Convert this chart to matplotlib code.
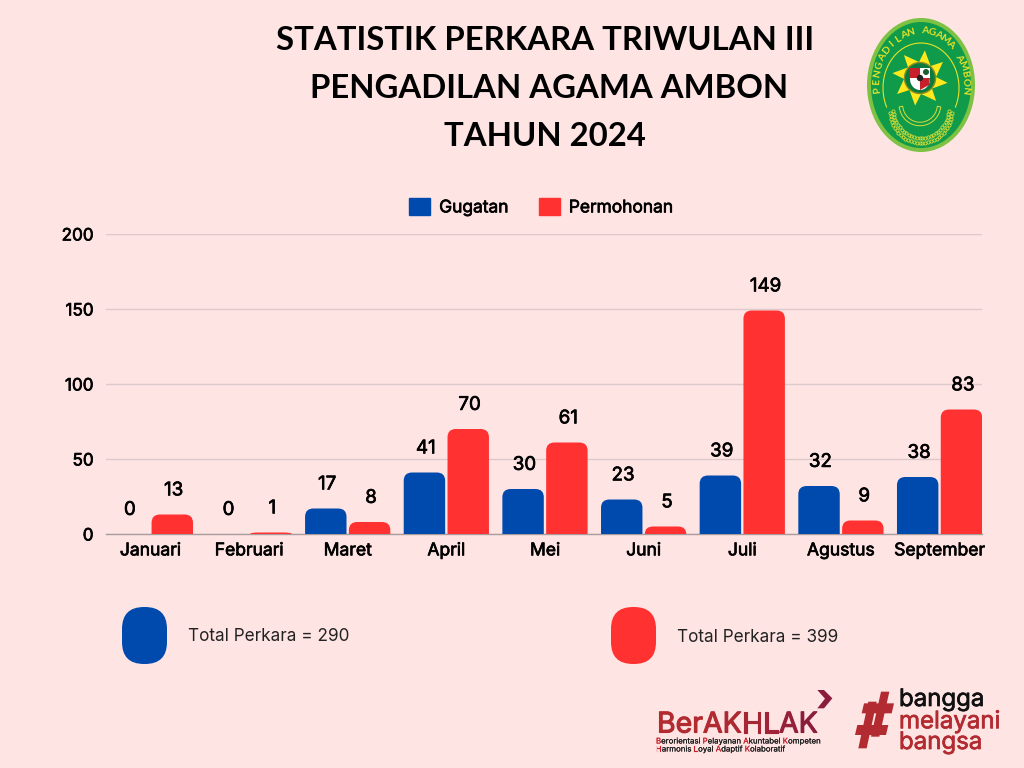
import numpy as np
import matplotlib
matplotlib.use("Agg")
import matplotlib.pyplot as plt
import matplotlib.patheffects as pe
from matplotlib.font_manager import FontProperties
from matplotlib.path import Path
from matplotlib.patches import PathPatch, Patch, Ellipse, FancyBboxPatch, Polygon, Circle, Rectangle
from matplotlib.textpath import text_to_path

months = ["Januari", "Februari", "Maret", "April", "Mei", "Juni", "Juli", "Agustus", "September"]
gugatan = [0, 0, 17, 41, 30, 23, 39, 32, 38]
permohonan = [13, 1, 8, 70, 61, 5, 149, 9, 83]
yticks = [0, 50, 100, 150, 200]
title_lines = ["STATISTIK PERKARA TRIWULAN III", "PENGADILAN AGAMA AMBON", "TAHUN 2024"]
total_gugatan = 290
total_permohonan = 399

BG = "#FFE4E4"
BLUE = "#004AAD"
RED = "#FF3131"
DARK = "#B12B30"
FONT = "Inter"

plt.rcParams["font.family"] = [FONT, "DejaVu Sans"]

fig = plt.figure(figsize=(10.24, 7.68), dpi=100, facecolor=BG)


def fat(color="black", lw=0.5):
    # Inter only comes in one weight here, so thicken it with a stroke
    return [pe.withStroke(linewidth=lw, foreground=color)]


# overlay in pixel coords, for everything outside the chart
ov = fig.add_axes([0, 0, 1, 1])
ov.set_xlim(0, 1024)
ov.set_ylim(768, 0)
ov.axis("off")

ax = fig.add_axes([106 / 1024, (768 - 534) / 768, (982 - 106) / 1024, 300 / 768])
ax.patch.set_alpha(0)


def round_top(rect, rx, ry):
    # swap a bar for the same bar with rounded upper corners
    x0, w, h = rect.get_x(), rect.get_width(), rect.get_height()
    x1 = x0 + w
    r = min(ry, h)
    verts = [(x0, 0), (x0, h - r), (x0, h), (x0 + rx, h), (x1 - rx, h), (x1, h), (x1, h - r), (x1, 0), (x0, 0)]
    codes = [Path.MOVETO, Path.LINETO, Path.CURVE3, Path.CURVE3, Path.LINETO, Path.CURVE3, Path.CURVE3, Path.LINETO, Path.CLOSEPOLY]
    ax.add_patch(PathPatch(Path(verts, codes), facecolor=rect.get_facecolor(), edgecolor="none", zorder=3))
    rect.set_visible(False)


x = np.arange(len(months))
offset = 0.222
width = 0.42
bars1 = ax.bar(x - offset, gugatan, width, color=BLUE, zorder=3)
bars2 = ax.bar(x + offset, permohonan, width, color=RED, zorder=3)
ax.set_xlim(-0.45, 8.43)
ax.set_ylim(0, 200)

for bars in (bars1, bars2):
    for rect in bars:
        if rect.get_height() > 0:
            round_top(rect, 0.085, 5.5)
        ax.annotate(str(int(rect.get_height())), (rect.get_x() + rect.get_width() / 2, rect.get_height()),
                    xytext=(1, 17), textcoords="offset points", ha="center", va="center",
                    fontsize=13.5, color="black", annotation_clip=False, path_effects=fat())

ax.set_yticks(yticks)
ax.set_xticks(x)
ax.set_xticklabels(months)
ax.tick_params(axis="both", length=0, labelcolor="black")
ax.tick_params(axis="y", pad=9, labelsize=12.3)
ax.tick_params(axis="x", pad=6, labelsize=12.6)
for lab in ax.get_xticklabels() + ax.get_yticklabels():
    lab.set_path_effects(fat())
ax.grid(axis="y", color="#DCCACA", linewidth=1, zorder=0)
ax.set_axisbelow(True)
for s in ["top", "right", "left"]:
    ax.spines[s].set_visible(False)
ax.spines["bottom"].set_color("#A89C9C")
ax.spines["bottom"].set_linewidth(1)

leg = ax.legend(handles=[Patch(color=BLUE, label="Gugatan"), Patch(color=RED, label="Permohonan")],
                loc="center", bbox_to_anchor=(0.497, 1.09), ncol=2, frameon=False,
                handlelength=1.2, handleheight=1.2, handletextpad=0.52, columnspacing=1.75,
                prop={"size": 12.5})
for tx in leg.get_texts():
    tx.set_path_effects(fat())

# title
for line, xc, y in zip(title_lines, [545, 549, 545], [40, 88, 136]):
    ov.text(xc, y, line, ha="center", va="center", fontsize=23.7, fontweight="bold", color="black", family="Lato")

# totals
ov.add_patch(FancyBboxPatch((122 + 20, 607 + 20), 5, 17, boxstyle="round,pad=20,rounding_size=22", fc=BLUE, ec="none"))
ov.add_patch(FancyBboxPatch((611 + 20, 607 + 20), 5, 17, boxstyle="round,pad=20,rounding_size=22", fc=RED, ec="none"))
ov.text(188, 636.5, "Total Perkara = %d" % total_gugatan, ha="left", va="center", fontsize=12.35, color="#222222")
ov.text(677, 637.5, "Total Perkara = %d" % total_permohonan, ha="left", va="center", fontsize=12.35, color="#222222")

# logo
LG = "#E6E229"
ov.add_patch(Ellipse((921, 85), 108, 134, fc="#7DC242", ec="none"))
ov.add_patch(Ellipse((921, 85), 100, 126, fc="#0F9B4A", ec="none"))
t = np.linspace(np.radians(-25), np.radians(205), 60)
ov.plot(921 + 38 * np.cos(t), 88 - 45 * np.sin(t), color=LG, lw=0.8)
name = "PENGADILAN AGAMA AMBON"
angs = np.linspace(186, -6, len(name))
for ch, a in zip(name, angs):
    ar = np.radians(a)
    ov.text(921 + 44 * np.cos(ar), 85 - 54 * np.sin(ar), ch, ha="center", va="center", fontsize=7.3,
            rotation=a - 90, color=LG, family="Lato", fontweight="bold")
# star
ang = np.radians(np.arange(16) * 22.5 + 10 + np.where(np.arange(16) % 2 == 0, 0, 9))
rad = np.where(np.arange(16) % 2 == 0, 28, 16)
ov.add_patch(Polygon(np.c_[920 + rad * np.cos(ang), 78 + rad * np.sin(ang)], fc="#FFE81C", ec="none"))
ov.add_patch(Circle((920, 78), 15.5, fc="#0B7A3E", ec="#8A8A20", lw=1))
ov.add_patch(Rectangle((910, 68), 20, 11, fc="white", ec="none"))
ov.add_patch(Ellipse((920, 79), 20, 22, fc="white", ec="none"))
ov.add_patch(Rectangle((910, 68), 10, 10, fc="#C8202A", ec="none"))
ov.add_patch(Polygon([(920, 78), (930, 78), (929, 85), (920, 90)], fc="#C8202A", ec="none"))
ov.add_patch(Circle((926, 72), 3, fc="#1E5B2E", ec="none"))
ov.add_patch(Circle((920, 78), 3.2, fc="#222222", ec="none"))
# ribbon and garland
for cy, ry, rx, n in [(110, 33, 31, 32), (108, 30, 28, 30)]:
    t = np.linspace(np.radians(185), np.radians(355), n)
    ov.plot(921 + rx * np.cos(t), cy - ry * np.sin(t), "o", ms=2.3, mfc="none", mec="#D7DE3A", mew=0.6)
t = np.linspace(np.radians(190), np.radians(350), 25)
ov.plot(920 + 19 * np.cos(t), 105 - 19 * np.sin(t), color="#D7DE3A", lw=3.2)
ov.plot(920 + 19 * np.cos(t), 105 - 19 * np.sin(t), color="#0F9B4A", lw=1.8)

# footer logos
letters = [("Ber", "#B12B30"), ("A", "#B12B30"), ("K", "#AC2932"), ("H", "#A62634"),
           ("L", "#A02337"), ("A", "#96203A"), ("K", "#8B1C3C")]


def run(x0, y, parts, size, stroke):
    # text pieces side by side, each with its own colour
    prop = FontProperties(family=FONT, size=size)

    def adv(s):
        return (text_to_path.get_text_width_height_descent(s + "|", prop, False)[0]
                - text_to_path.get_text_width_height_descent("|", prop, False)[0]) * 100 / 72

    done = ""
    for s, c in parts:
        ov.text(x0 + adv(done), y, s, ha="left", va="center_baseline", fontproperties=prop, color=c,
                path_effects=fat(c, stroke))
        done += s


run(657, 722, letters, 20.5, 0.8)
BK = "#1A1A1A"
run(656, 741, [("B", "#C8202A"), ("erorientasi ", BK), ("P", "#C8202A"), ("elayanan ", BK), ("A", "#C8202A"),
               ("kuntabel ", BK), ("K", "#C8202A"), ("ompeten", BK)], 5.65, 0.1)
run(656, 749, [("H", "#C8202A"), ("armonis ", BK), ("L", "#C8202A"), ("oyal ", BK), ("A", "#C8202A"),
               ("daptif ", BK), ("K", "#C8202A"), ("olaboratif", BK)], 5.65, 0.1)


def zp(pts):
    return [(640 + a / 3, 680 + b / 3) for a, b in pts]


def cp(pts):
    return [(850 + a / 3, 685 + b / 3) for a, b in pts]


ov.add_patch(Polygon(zp([(532, 30), (552, 30), (577, 55), (552, 85), (532, 85), (555, 56)]), fc="#8B1C3C", ec="none"))
ov.add_patch(Polygon(cp([(55, 50), (80, 50), (50, 190), (25, 190)]), fc=DARK, ec="none"))
ov.add_patch(Polygon(cp([(93, 20), (118, 20), (88, 155), (63, 155)]), fc=DARK, ec="none"))
ov.add_patch(Polygon(cp([(42, 55), (132, 55), (125, 85), (35, 85)]), fc=DARK, ec="none"))
ov.add_patch(Polygon(cp([(22, 120), (115, 120), (108, 150), (15, 150)]), fc=DARK, ec="none"))
ov.text(899, 700, "bangga", ha="left", va="center", fontsize=17.3, color="#111111", path_effects=fat("#111111", 0.5))
ov.text(899, 722, "melayani", ha="left", va="center", fontsize=17.3, color=DARK, path_effects=fat(DARK, 0.5))
ov.text(899, 743, "bangsa", ha="left", va="center", fontsize=17.3, color=DARK, path_effects=fat(DARK, 0.5))

fig.savefig("out.png", dpi=100, facecolor=BG)
